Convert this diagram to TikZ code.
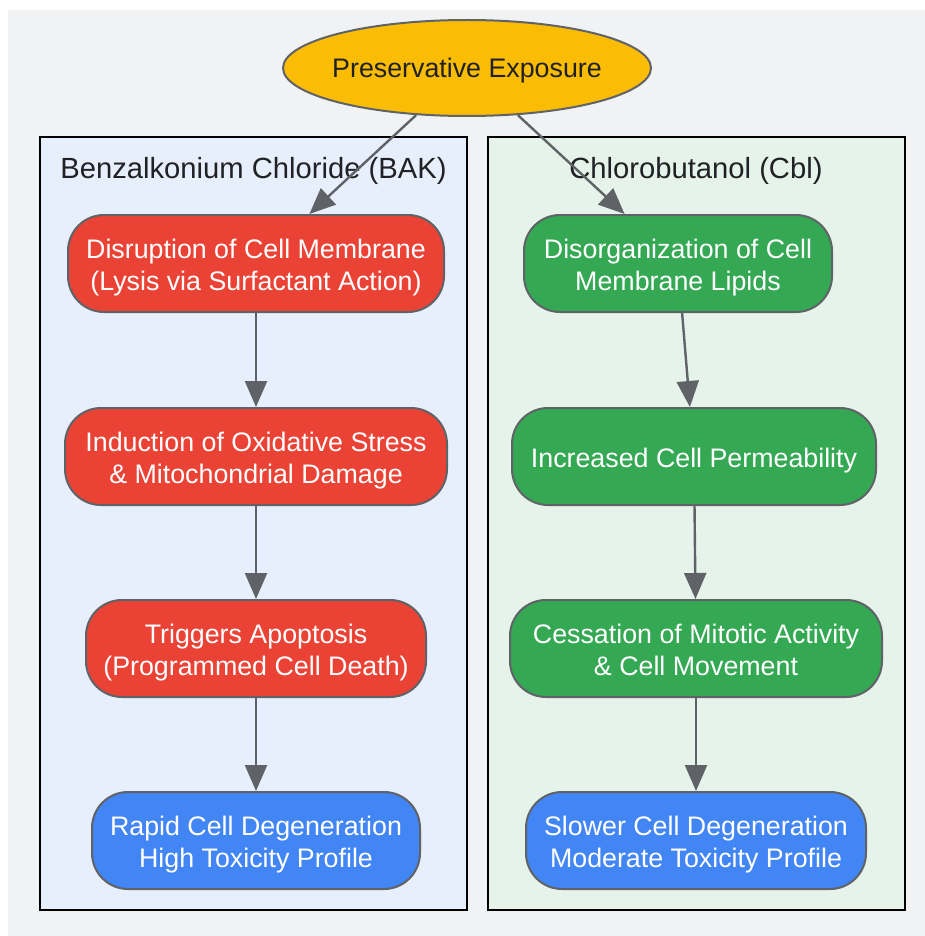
\documentclass[tikz,border=0pt]{standalone}
\usepackage{fontspec}
\setmainfont{Liberation Sans}
\usetikzlibrary{arrows.meta,shapes.geometric}
\definecolor{bgc}{RGB}{241,242,244}
\definecolor{edgec}{RGB}{95,99,104}
\definecolor{gyellow}{RGB}{251,188,4}
\definecolor{gred}{RGB}{234,67,53}
\definecolor{ggreen}{RGB}{52,168,83}
\definecolor{gblue}{RGB}{66,133,244}
\definecolor{bakfill}{RGB}{232,239,252}
\definecolor{cblfill}{RGB}{230,243,234}
\definecolor{darktext}{RGB}{32,33,36}
\newcommand\dnlines[1]{\raisebox{-4.5pt}[\height][\depth]{\begin{tabular}{@{}c@{}}#1\end{tabular}}}
\newcommand\flatlabel[1]{\makebox[0pt]{\raisebox{-9.5pt}[0pt][0pt]{\begin{tabular}{@{}c@{}}#1\end{tabular}}}}
\begin{document}
\begin{tikzpicture}[x=1pt,y=-1pt,
  proc/.style={draw=edgec, line width=2pt, rounded corners=36pt, minimum height=97pt,
    text=white, align=center, font=\fontsize{26.8}{32}\selectfont, inner sep=0pt},
  redbox/.style={proc, fill=gred},
  greenbox/.style={proc, fill=ggreen},
  bluebox/.style={proc, fill=gblue},
  startnode/.style={ellipse, draw=edgec, line width=2pt, fill=gyellow, text=darktext,
    minimum width=368pt, minimum height=96pt, inner sep=0pt, font=\fontsize{26.8}{32}\selectfont},
  clusterbox/.style={draw=black, line width=2.5pt},
  clustertitle/.style={text=darktext, font=\fontsize{29.2}{34}\selectfont, inner sep=0pt},
  flow/.style={draw=edgec, line width=2.4pt, -{Triangle[length=26pt,width=22pt]}}
]
\useasboundingbox (0,0) rectangle (925,936);
\fill[white] (0,0) rectangle (925,936);
\fill[bgc] (8,10) rectangle (925,936);

% clusters
\draw[clusterbox, fill=bakfill] (40,137) rectangle (467,910);
\draw[clusterbox, fill=cblfill] (488,137) rectangle (905,910);
\node[clustertitle] (baktitle) at (253.5,167) {\dnlines{Benzalkonium Chloride (BAK)}};
\node[clustertitle] (cbltitle) at (696,167) {\dnlines{Chlorobutanol (Cbl)}};

% nodes
\node[startnode] (start) at (467,68) {\flatlabel{Preservative Exposure}};

\node[redbox, minimum width=376pt] (l1) at (256,263.5) {\dnlines{Disruption of Cell Membrane\\(Lysis via Surfactant Action)}};
\node[redbox, minimum width=382pt] (l2) at (256,456.5) {\dnlines{Induction of Oxidative Stress\\\& Mitochondrial Damage}};
\node[redbox, minimum width=340pt] (l3) at (256,648.5) {\dnlines{Triggers Apoptosis\\(Programmed Cell Death)}};
\node[bluebox, minimum width=328pt] (l4) at (256,840.5) {\dnlines{Rapid Cell Degeneration\\High Toxicity Profile}};

\node[greenbox, minimum width=308pt] (r1) at (678,263.5) {\dnlines{Disorganization of Cell\\Membrane Lipids}};
\node[greenbox, minimum width=364pt] (r2) at (694,456.5) {\dnlines{Increased Cell Permeability}};
\node[greenbox, minimum width=372pt] (r3) at (696,648.5) {\dnlines{Cessation of Mitotic Activity\\\& Cell Movement}};
\node[bluebox, minimum width=340pt] (r4) at (696,840.5) {\dnlines{Slower Cell Degeneration\\Moderate Toxicity Profile}};

% connectors
\draw[flow] (start) -- (l1);
\draw[flow] (start) -- (r1);
\draw[flow] (l1) -- (l2);
\draw[flow] (l2) -- (l3);
\draw[flow] (l3) -- (l4);
\draw[flow] (r1) -- (r2);
\draw[flow] (r2) -- (r3);
\draw[flow] (r3) -- (r4);
\end{tikzpicture}
\end{document}
